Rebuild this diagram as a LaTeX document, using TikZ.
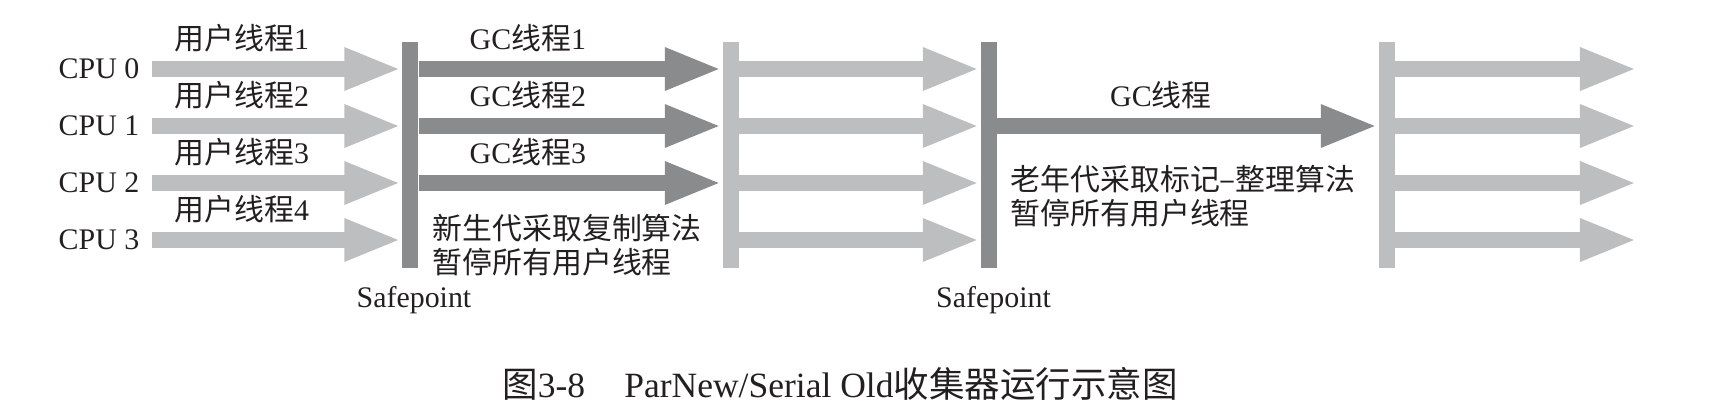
\documentclass[tikz,border=0pt]{standalone}
\usepackage{fontspec}
\setmainfont{Liberation Serif}
\newfontfamily\cjk{Noto Sans CJK SC}
\usepackage{xcolor}
\usepackage{tikz}
\usetikzlibrary{positioning, arrows.meta}
\definecolor{gcdark}{RGB}{138,139,141}
\definecolor{userlight}{RGB}{189,190,192}
\definecolor{inktext}{RGB}{35,31,32}

\begin{document}
\begin{tikzpicture}[
        x=0.01cm, y=-0.01cm,
        every node/.style={font=\fontsize{8.5pt}{9.7pt}\selectfont, text=inktext, inner sep=0pt},
        cpu/.style={anchor=east},
        bar/.style={rectangle, minimum width=0.16cm, minimum height=2.26cm},
        darkbar/.style={bar, fill=gcdark},
        lightbar/.style={bar, fill=userlight},
        flow/.style={line width=0.16cm, -{Triangle[length=0.57cm, width=0.39cm]}},
        userflow/.style={flow, userlight},
        gcflow/.style={flow, gcdark},
        tag/.style={yshift=0.31cm},
        note/.style={anchor=west, align=left}
    ]
        \useasboundingbox (0,0) rectangle (1722,418);

        % Safepoint bars
        \node[darkbar] (sp1) at (410,155) {};
        \node[lightbar] (mid1) at (730.5,155) {};
        \node[darkbar] (sp2) at (988.5,155) {};
        \node[lightbar] (end1) at (1386.5,155) {};
        \node[below=0.17cm of sp1, xshift=0.04cm] (sp1lbl) {Safepoint};
        \node[below=0.17cm of sp2, xshift=0.05cm] (sp2lbl) {Safepoint};

        % Threads
        \foreach \i/\row/\n in {0/69/1, 1/126/2, 2/183/3, 3/240/4} {
            \node[cpu] (cpu\i) at (140,\row) {CPU \i};
            \coordinate (out\i) at (1637,\row);
            \draw[userflow] ([xshift=0.12cm]cpu\i.east) -- node[tag, pos=0.36] {{\cjk 用户线程}\n} (sp1.west |- cpu\i.east);
            \draw[userflow] (mid1.east |- cpu\i.east) -- (sp2.west |- cpu\i.east);
            \draw[userflow] (end1.east |- cpu\i.east) -- (out\i);
        }
        \foreach \i/\n in {0/1, 1/2, 2/3}
            \draw[gcflow] (sp1.east |- cpu\i.east) -- node[tag, pos=0.36] {GC{\cjk 线程}\n} (mid1.west |- cpu\i.east);
        \draw[gcflow] (sp2.east |- cpu1.east) -- node[tag, pos=0.43] {GC{\cjk 线程}} (end1.west |- cpu1.east);

        % Notes
        \node[note] (young) at (432,245) {\cjk 新生代采取复制算法\\\cjk 暂停所有用户线程};
        \node[note] (old) at (1010,196) {\cjk 老年代采取标记–整理算法\\\cjk 暂停所有用户线程};

        % Caption
        \node[font=\fontsize{10.1pt}{11.5pt}\selectfont] (caption) at (840,384) {{\cjk 图}3-8\hspace{1.1em}ParNew/Serial Old{\cjk 收集器运行示意图}};
    \end{tikzpicture}
\end{document}
